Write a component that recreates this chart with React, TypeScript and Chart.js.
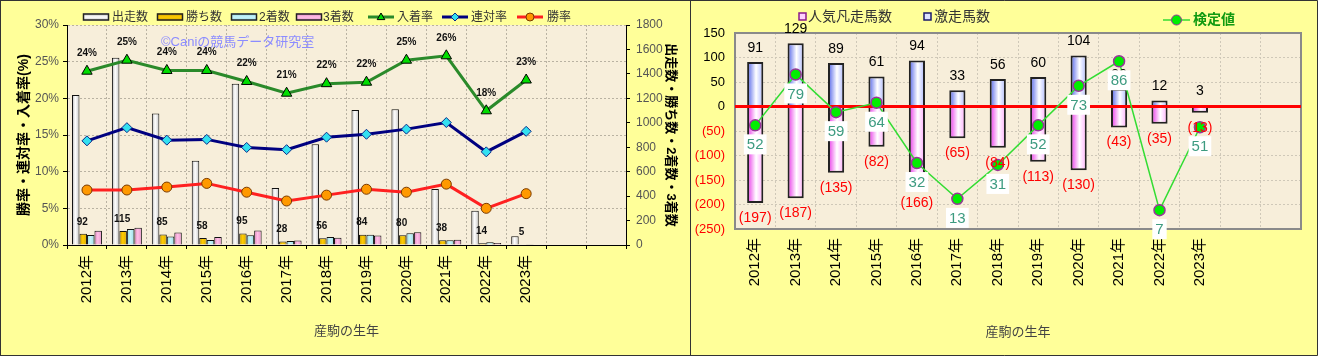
import React, { useEffect, useRef } from "react";
import { Chart, registerables } from "chart.js";
Chart.register(...registerables);

const FONT = "'Liberation Sans', 'Noto Sans CJK JP', 'Noto Sans', sans-serif";
const PANEL = "#FFFF99";
const PLOT = "#F7EEDA";
const GRID = "#B9B2A2";

// ---------- data ----------
const categories = ["2012年", "2013年", "2014年", "2015年", "2016年", "2017年", "2018年", "2019年", "2020年", "2021年", "2022年", "2023年", "", ""];
const starts = [1227, 1533, 1076, 690, 1320, 467, 824, 1105, 1111, 458, 280, 71];
const wins = [92, 115, 85, 58, 95, 28, 56, 84, 80, 38, 14, 5];
const seconds = [82, 130, 69, 41, 80, 33, 65, 83, 96, 38, 22, 6];
const thirds = [117, 141, 102, 65, 119, 36, 60, 78, 104, 42, 16, 5];
const placeRate = [23.7, 25.2, 23.8, 23.8, 22.3, 20.7, 22.0, 22.2, 25.2, 25.8, 18.3, 22.5];
const placeRateLabels = ["24%", "25%", "24%", "24%", "22%", "21%", "22%", "22%", "25%", "26%", "18%", "23%"];
const quinellaRate = [14.2, 16.0, 14.3, 14.4, 13.3, 13.0, 14.7, 15.1, 15.8, 16.7, 12.7, 15.5];
const winRate = [7.5, 7.5, 7.9, 8.4, 7.2, 6.0, 6.8, 7.6, 7.2, 8.3, 5.0, 7.0];

const gekisou = [91, 129, 89, 61, 94, 33, 56, 60, 104, 36, 12, 3];
const bonsou = [-197, -187, -135, -82, -166, -65, -84, -113, -130, -43, -35, -13];
const kentei = [52, 79, 59, 64, 32, 13, 31, 52, 73, 86, 7, 51];

const leftTicksPct = [0, 5, 10, 15, 20, 25, 30];

// ---------- helpers ----------
function hGrad(c: any, stops: [number, string][], slot: number, nSlots: number, catPct: number) {
  const chart = c.chart;
  const xs = chart.scales && chart.scales.x;
  if (c.type !== "data" || !xs || !chart.chartArea) return stops[1][1];
  const p0 = xs.getPixelForValue(0);
  const p1 = xs.getPixelForValue(1);
  const catW = Math.abs(p1 - p0);
  if (!isFinite(catW) || catW === 0) return stops[1][1];
  const cx = xs.getPixelForValue(c.dataIndex);
  const groupW = catW * catPct;
  const bw = groupW / nSlots;
  const left = cx - groupW / 2 + slot * bw;
  const g = chart.ctx.createLinearGradient(left, 0, left + bw, 0);
  stops.forEach(([o, col]) => g.addColorStop(o, col));
  return g;
}

const STARTS_GRAD: [number, string][] = [[0, "#b8b8b8"], [0.45, "#ffffff"], [1, "#c4c4c4"]];
const WINS_GRAD: [number, string][] = [[0, "#c89a00"], [0.45, "#ffcc00"], [1, "#d8aa00"]];
const SEC_GRAD: [number, string][] = [[0, "#8fd8e4"], [0.45, "#c8f4fa"], [1, "#9adfea"]];
const THIRD_GRAD: [number, string][] = [[0, "#e07ec0"], [0.45, "#ffc0e6"], [1, "#e894cc"]];
const BLUE_GRAD: [number, string][] = [[0, "#4d5fe8"], [0.55, "#ffffff"], [1, "#aab6ff"]];
const PINK_GRAD: [number, string][] = [[0, "#e830e8"], [0.55, "#ffffff"], [1, "#ffa8ff"]];

function drawMarker(ctx: CanvasRenderingContext2D, style: string, x: number, y: number, r: number, fill: string, stroke: string) {
  ctx.save();
  ctx.beginPath();
  if (style === "triangle") {
    ctx.moveTo(x, y - r);
    ctx.lineTo(x + r * 0.95, y + r * 0.65);
    ctx.lineTo(x - r * 0.95, y + r * 0.65);
    ctx.closePath();
  } else if (style === "diamond") {
    ctx.moveTo(x, y - r);
    ctx.lineTo(x + r, y);
    ctx.lineTo(x, y + r);
    ctx.lineTo(x - r, y);
    ctx.closePath();
  } else {
    ctx.arc(x, y, r, 0, Math.PI * 2);
  }
  ctx.fillStyle = fill;
  ctx.fill();
  ctx.lineWidth = 1;
  ctx.strokeStyle = stroke;
  ctx.stroke();
  ctx.restore();
}

function barIcon(ctx: CanvasRenderingContext2D, x: number, y: number, w: number, h: number, stops: [number, string][]) {
  const g = ctx.createLinearGradient(0, y - h / 2, 0, y + h / 2);
  g.addColorStop(0, stops[0][1]);
  g.addColorStop(0.5, stops[1][1]);
  g.addColorStop(1, stops[2][1]);
  ctx.save();
  ctx.fillStyle = g;
  ctx.fillRect(x, y - h / 2, w, h);
  ctx.lineWidth = 1.5;
  ctx.strokeStyle = "#222";
  ctx.strokeRect(x + 0.5, y - h / 2 + 0.5, w - 1, h - 1);
  ctx.restore();
}

// ---------- left chart ----------
const leftLegend = [
  { kind: "bar", text: "出走数", icon: 83, tx: 112, grad: STARTS_GRAD },
  { kind: "bar", text: "勝ち数", icon: 157, tx: 186, grad: WINS_GRAD },
  { kind: "bar", text: "2着数", icon: 231, tx: 259, grad: SEC_GRAD },
  { kind: "bar", text: "3着数", icon: 296, tx: 323, grad: THIRD_GRAD },
  { kind: "line", text: "入着率", icon: 368, tx: 397, color: "#2A8A2A", marker: "triangle", fill: "#00DD00", stroke: "#000" },
  { kind: "line", text: "連対率", icon: 442, tx: 471, color: "#000080", marker: "diamond", fill: "#33E0F0", stroke: "#0A2A8A" },
  { kind: "line", text: "勝率", icon: 517, tx: 547, color: "#FF2020", marker: "circle", fill: "#FF9900", stroke: "#7A3A00" },
];

const leftPlugin = {
  id: "leftDeco",
  beforeDraw(chart: any) {
    const { ctx, chartArea: a, width, height } = chart;
    ctx.save();
    ctx.fillStyle = PANEL;
    ctx.fillRect(0, 0, width, height);
    ctx.fillStyle = PLOT;
    ctx.fillRect(a.left, a.top, a.right - a.left, a.bottom - a.top);
    ctx.restore();
  },
  beforeDatasetsDraw(chart: any) {
    const { ctx } = chart;
    ctx.save();
    ctx.font = `13px ${FONT}`;
    ctx.fillStyle = "#8C8CFF";
    ctx.textBaseline = "middle";
    ctx.textAlign = "left";
    ctx.fillText("©Caniの競馬データ研究室", 161, 42);
    ctx.restore();
  },
  afterDatasetsDraw(chart: any) {
    const { ctx } = chart;
    ctx.save();
    ctx.textAlign = "center";
    ctx.textBaseline = "middle";
    ctx.fillStyle = "#111";
    ctx.font = `bold 10px ${FONT}`;
    const pm = chart.getDatasetMeta(4);
    pm.data.forEach((pt: any, i: number) => {
      ctx.fillText(placeRateLabels[i], pt.x, pt.y - 18);
    });
    const wm = chart.getDatasetMeta(1);
    wm.data.forEach((el: any, i: number) => {
      ctx.fillText(String(wins[i]), el.x - 1, el.y - 12);
    });
    ctx.restore();
  },
  afterDraw(chart: any) {
    const { ctx, width, height } = chart;
    ctx.save();
    const ly = 17;
    leftLegend.forEach((it: any) => {
      if (it.kind === "bar") {
        barIcon(ctx, it.icon, ly, 26, 7, it.grad);
      } else {
        ctx.strokeStyle = it.color;
        ctx.lineWidth = 3;
        ctx.beginPath();
        ctx.moveTo(it.icon, ly);
        ctx.lineTo(it.icon + 26, ly);
        ctx.stroke();
        drawMarker(ctx, it.marker, it.icon + 13, ly, 4, it.fill, it.stroke);
      }
      ctx.font = `12px ${FONT}`;
      ctx.fillStyle = "#333";
      ctx.textAlign = "left";
      ctx.textBaseline = "middle";
      ctx.fillText(it.text, it.tx, ly + 1);
    });
    ctx.strokeStyle = "#333";
    ctx.lineWidth = 1;
    ctx.strokeRect(0.5, 0.5, width - 1, height - 1);
    ctx.restore();
  },
};

function leftConfig(): any {
  return {
    type: "bar",
    data: {
      labels: categories,
      datasets: [
        { label: "出走数", data: starts, yAxisID: "y1", order: 1, borderColor: "#111", borderWidth: 1,
          backgroundColor: (c: any) => hGrad(c, STARTS_GRAD, 0, 4, 0.75) },
        { label: "勝ち数", data: wins, yAxisID: "y1", order: 1, borderColor: "#111", borderWidth: 1,
          backgroundColor: (c: any) => hGrad(c, WINS_GRAD, 1, 4, 0.75) },
        { label: "2着数", data: seconds, yAxisID: "y1", order: 1, borderColor: "#111", borderWidth: 1,
          backgroundColor: (c: any) => hGrad(c, SEC_GRAD, 2, 4, 0.75) },
        { label: "3着数", data: thirds, yAxisID: "y1", order: 1, borderColor: "#111", borderWidth: 1,
          backgroundColor: (c: any) => hGrad(c, THIRD_GRAD, 3, 4, 0.75) },
        { type: "line", label: "入着率", data: placeRate, yAxisID: "y", order: 0, borderColor: "#2A8A2A", borderWidth: 3,
          pointStyle: "triangle", pointRadius: 6, pointBackgroundColor: "#00DD00", pointBorderColor: "#000", pointBorderWidth: 1, tension: 0 },
        { type: "line", label: "連対率", data: quinellaRate, yAxisID: "y", order: 0, borderColor: "#000080", borderWidth: 3,
          pointStyle: "rectRot", pointRadius: 5, pointBackgroundColor: "#33E0F0", pointBorderColor: "#0A2A8A", pointBorderWidth: 1, tension: 0 },
        { type: "line", label: "勝率", data: winRate, yAxisID: "y", order: 0, borderColor: "#FF2020", borderWidth: 3,
          pointStyle: "circle", pointRadius: 5, pointBackgroundColor: "#FF9900", pointBorderColor: "#7A3A00", pointBorderWidth: 1, tension: 0 },
      ],
    },
    options: {
      responsive: false,
      animation: false,
      devicePixelRatio: 1,
      layout: { padding: { top: 25, left: 0, right: 0, bottom: 0 } },
      datasets: { bar: { categoryPercentage: 0.75, barPercentage: 1 } },
      plugins: { legend: { display: false }, tooltip: { enabled: false }, title: { display: false } },
      scales: {
        x: {
          grid: { offset: true, color: GRID, lineWidth: 1, drawTicks: true, tickLength: 4, tickColor: "#000" },
          border: { display: true, color: "#000", width: 1, dash: [2, 2] },
          ticks: { autoSkip: false, maxRotation: 90, minRotation: 90, padding: 6, color: "#000", font: { family: FONT, size: 15 } },
          title: { display: true, text: "産駒の生年", color: "#444", font: { family: FONT, size: 13 }, padding: { top: 4, bottom: 17 } },
          afterFit: (s: any) => { s.height = 111; },
        },
        y: {
          position: "left",
          min: 0, max: 30,
          afterBuildTicks: (s: any) => { s.ticks = leftTicksPct.map((v) => ({ value: v })); },
          grid: { color: GRID, lineWidth: 1, tickLength: 4, tickColor: "#000" },
          border: { display: true, color: "#000", width: 1, dash: [2, 2] },
          ticks: { color: "#555", padding: 4, font: { family: FONT, size: 12 }, callback: (v: any) => `${v}%` },
          title: { display: true, text: "勝率・連対率・入着率(%)", color: "#000", font: { family: FONT, size: 14, weight: "bold" }, padding: { top: 16, bottom: 4 } },
          afterFit: (s: any) => { s.width = 67; },
        },
        y1: {
          position: "right",
          min: 0, max: 1800,
          ticks: { stepSize: 200, color: "#555", padding: 6, font: { family: FONT, size: 12 }, callback: (v: any) => String(v) },
          grid: { drawOnChartArea: false, tickLength: 4, tickColor: "#000", color: "#000" },
          border: { display: true, color: "#000", width: 1 },
          title: { display: true, text: "出走数・勝ち数・2着数・3着数", color: "#000", font: { family: FONT, size: 13, weight: "bold" }, padding: { top: 13, bottom: 4 } },
          afterFit: (s: any) => { s.width = 65; },
        },
      },
    },
    plugins: [leftPlugin],
  };
}

// ---------- right chart ----------
const rightPlugin = {
  id: "rightDeco",
  beforeDraw(chart: any) {
    const { ctx, chartArea: a, width, height } = chart;
    ctx.save();
    ctx.fillStyle = PANEL;
    ctx.fillRect(0, 0, width, height);
    ctx.fillStyle = PLOT;
    ctx.fillRect(a.left, a.top, a.right - a.left, a.bottom - a.top);
    ctx.restore();
  },
  beforeDatasetsDraw(chart: any) {
    const { ctx, chartArea: a } = chart;
    ctx.save();
    ctx.strokeStyle = "#8A8A8A";
    ctx.lineWidth = 2;
    ctx.strokeRect(a.left, a.top, a.right - a.left, a.bottom - a.top);
    ctx.restore();
  },
  beforeDatasetDraw(chart: any, args: any) {
    if (args.index !== 2) return;
    const { ctx, chartArea: a } = chart;
    const y0 = chart.scales.y.getPixelForValue(0);
    ctx.save();
    ctx.strokeStyle = "#FF0000";
    ctx.lineWidth = 3;
    ctx.beginPath();
    ctx.moveTo(a.left, y0);
    ctx.lineTo(a.right, y0);
    ctx.stroke();
    ctx.restore();
  },
  afterDatasetsDraw(chart: any) {
    const { ctx } = chart;
    ctx.save();
    ctx.textAlign = "center";
    ctx.textBaseline = "middle";
    ctx.font = `14px ${FONT}`;
    const gm = chart.getDatasetMeta(1);
    ctx.fillStyle = "#000";
    gm.data.forEach((el: any, i: number) => {
      ctx.fillText(String(gekisou[i]), el.x, el.y - 14);
    });
    const bm = chart.getDatasetMeta(0);
    ctx.fillStyle = "#FF0000";
    bm.data.forEach((el: any, i: number) => {
      ctx.fillText(`(${-bonsou[i]})`, el.x, el.y + 15);
    });
    const km = chart.getDatasetMeta(2);
    ctx.font = `15px ${FONT}`;
    km.data.forEach((pt: any, i: number) => {
      const t = String(kentei[i]);
      const tw = ctx.measureText(t).width;
      const bw = Math.max(tw + 6, 14);
      const cy = pt.y + 19;
      ctx.fillStyle = "#FFFFFF";
      ctx.fillRect(pt.x - bw / 2, cy - 10, bw, 20);
      ctx.fillStyle = "#3D9B80";
      ctx.fillText(t, pt.x, cy + 1);
    });
    ctx.restore();
  },
  afterDraw(chart: any) {
    const { ctx, width, height } = chart;
    ctx.save();
    // legend
    const ly = 17;
    const sq = (x: number, fill: string, stroke: string) => {
      ctx.fillStyle = fill;
      ctx.fillRect(x, ly - 4, 7, 7);
      ctx.strokeStyle = stroke;
      ctx.lineWidth = 1.5;
      ctx.strokeRect(x, ly - 4, 7, 7);
    };
    ctx.font = `14px ${FONT}`;
    ctx.textAlign = "left";
    ctx.textBaseline = "middle";
    sq(108, "#FFD0FF", "#8A1A8A");
    ctx.fillStyle = "#333";
    ctx.fillText("人気凡走馬数", 117, ly);
    sq(233, "#DDE4FF", "#1A1A6A");
    ctx.fillStyle = "#333";
    ctx.fillText("激走馬数", 243, ly);
    const ky = 20;
    ctx.strokeStyle = "#33DD33";
    ctx.lineWidth = 1.5;
    ctx.beginPath();
    ctx.moveTo(472, ky);
    ctx.lineTo(499, ky);
    ctx.stroke();
    drawMarker(ctx, "circle", 485.5, ky, 5, "#00EE00", "#993399");
    ctx.font = `bold 14px ${FONT}`;
    ctx.fillStyle = "#109A10";
    ctx.fillText("検定値", 502, ky);
    // border
    ctx.strokeStyle = "#333";
    ctx.lineWidth = 1;
    ctx.beginPath();
    ctx.moveTo(0, 0.5);
    ctx.lineTo(width - 0.5, 0.5);
    ctx.lineTo(width - 0.5, height - 0.5);
    ctx.lineTo(0, height - 0.5);
    ctx.stroke();
    ctx.restore();
  },
};

function rightConfig(): any {
  return {
    type: "bar",
    data: {
      labels: categories,
      datasets: [
        { label: "人気凡走馬数", data: bonsou, stack: "s", order: 1, borderColor: "#222", borderWidth: 2,
          backgroundColor: (c: any) => hGrad(c, PINK_GRAD, 0, 1, 0.4) },
        { label: "激走馬数", data: gekisou, stack: "s", order: 1, borderColor: "#222", borderWidth: 2,
          backgroundColor: (c: any) => hGrad(c, BLUE_GRAD, 0, 1, 0.4) },
        { type: "line", label: "検定値", data: kentei, yAxisID: "y2", order: 0, borderColor: "#33DD33", borderWidth: 1.5,
          pointStyle: "circle", pointRadius: 5.5, pointBackgroundColor: "#00EE00", pointBorderColor: "#993399", pointBorderWidth: 1.5, tension: 0 },
      ],
    },
    options: {
      responsive: false,
      animation: false,
      devicePixelRatio: 1,
      layout: { padding: { top: 33, left: 0, right: 17, bottom: 0 } },
      datasets: { bar: { categoryPercentage: 0.4, barPercentage: 1 } },
      plugins: { legend: { display: false }, tooltip: { enabled: false }, title: { display: false } },
      scales: {
        x: {
          stacked: true,
          grid: { offset: true, color: "#CFC8B8", lineWidth: 1, drawTicks: false },
          border: { display: false, dash: [2, 2] },
          ticks: { autoSkip: false, maxRotation: 90, minRotation: 90, padding: 9, color: "#000", font: { family: FONT, size: 15 } },
          title: { display: true, text: "産駒の生年", color: "#444", font: { family: FONT, size: 13 }, padding: { top: 4, bottom: 16 } },
          afterFit: (s: any) => { s.height = 127; },
        },
        y: {
          stacked: true,
          min: -250, max: 150,
          ticks: {
            stepSize: 50, padding: 10, font: { family: FONT, size: 13 },
            color: (c: any) => (c.tick && c.tick.value < 0 ? "#FF0000" : "#000"),
            callback: (v: any) => (v < 0 ? `(${-v})` : `${v}`),
          },
          grid: { color: "#CFC8B8", lineWidth: 1, drawTicks: false },
          border: { display: false, dash: [2, 2] },
          afterFit: (s: any) => { s.width = 44; },
        },
        y2: { display: false, min: -3, max: 101 },
      },
    },
    plugins: [rightPlugin],
  };
}

export default function App() {
  const leftRef = useRef<HTMLCanvasElement>(null);
  const rightRef = useRef<HTMLCanvasElement>(null);
  useEffect(() => {
    document.body.style.margin = "0";
    const c1 = new Chart(leftRef.current as HTMLCanvasElement, leftConfig());
    const c2 = new Chart(rightRef.current as HTMLCanvasElement, rightConfig());
    return () => {
      c1.destroy();
      c2.destroy();
    };
  }, []);
  return (
    <div style={{ position: "relative", width: 1318, height: 356, background: PANEL, overflow: "hidden" }}>
      <canvas ref={leftRef} width={691} height={356} style={{ position: "absolute", left: 0, top: 0, width: 691, height: 356 }} />
      <canvas ref={rightRef} width={627} height={356} style={{ position: "absolute", left: 691, top: 0, width: 627, height: 356 }} />
    </div>
  );
}
